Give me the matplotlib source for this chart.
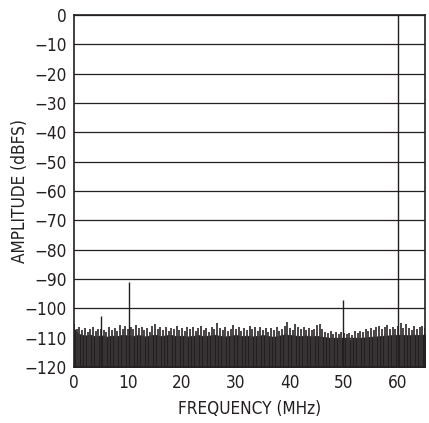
#!/usr/bin/env python3
import matplotlib
matplotlib.use("Agg")
import matplotlib.pyplot as plt
from matplotlib import font_manager
import numpy as np

# tones: fundamental at 60 MHz plus a few spurs
tone_freq = [5.0, 10.1, 49.9, 60.0]
tone_amp = [-102.5, -91.0, -97.0, 0.0]

# noise peaks read every 0.5 MHz (0..65)
peak_freq = np.arange(0, 65.01, 0.5)
peak_amp = [
    -105.5, -107.0, -106.5, -107.5, -106.8, -108.0, -107.0, -106.5, -107.8, -107.2,
    -107.0, -107.5, -108.0, -106.2, -107.5, -106.8, -107.8, -105.8, -107.0, -106.0,
    -107.0, -106.5, -107.2, -105.6, -106.8, -106.3, -107.5, -106.6, -108.0, -106.0,
    -105.5, -107.0, -106.5, -107.3, -106.2, -107.8, -106.6, -107.2, -106.1, -107.4,
    -106.6, -107.6, -106.3, -107.1, -106.5, -107.8, -106.8, -105.9, -107.3, -106.6,
    -107.9, -106.4, -107.2, -104.9, -106.8, -107.5, -106.3, -107.7, -106.9, -105.8,
    -107.2, -106.5, -107.6, -106.7, -107.4, -105.9, -107.1, -106.3, -107.8, -106.2,
    -107.3, -106.6, -107.9, -106.8, -107.4, -106.4, -107.6, -106.9, -106.1, -104.8,
    -106.7, -107.3, -105.5, -106.4, -107.1, -106.2, -107.4, -106.8, -107.5, -106.9,
    -105.8, -105.3, -107.2, -107.9, -108.3, -107.6, -108.6, -108.1, -108.9, -108.2,
    -108.5, -108.8, -108.3, -109.1, -107.8, -108.4, -107.6, -107.9, -107.2, -107.7,
    -106.8, -107.4, -106.5, -106.1, -107.2, -106.4, -105.8, -106.9, -106.3, -107.1,
    -106.0, -104.9, -106.6, -105.2, -106.8, -107.3, -106.1, -107.0, -106.5, -105.9,
    -106.7,
]

# top of the solid noise floor, every 1 MHz
floor_freq = np.arange(0, 66, 1)
floor_amp = [
    -107.0, -108.8, -109.3, -109.0, -109.6, -109.2, -109.7, -109.3, -109.5, -109.0,
    -109.3, -109.4, -109.1, -109.6, -109.3, -109.0, -109.5, -109.2, -109.1, -109.5,
    -109.3, -109.6, -109.4, -109.1, -109.5, -109.3, -109.0, -109.4, -109.6, -109.3,
    -109.1, -109.5, -109.3, -109.6, -109.4, -109.1, -109.5, -109.7, -109.3, -108.9,
    -109.1, -109.3, -109.5, -109.3, -109.6, -109.4, -109.7, -110.0, -110.3, -110.5,
    -110.4, -110.6, -110.3, -110.1, -109.9, -109.7, -109.6, -109.4, -109.3, -109.1,
    -109.0, -109.1, -109.2, -109.0, -109.1, -108.9,
]

INK = "#231f20"


def main():
    names = {f.name for f in font_manager.fontManager.ttflist}
    if "Liberation Sans Narrow" in names:
        plt.rcParams["font.family"] = ["Liberation Sans Narrow", "DejaVu Sans"]
        fsize = 13
    else:
        plt.rcParams["font.family"] = ["DejaVu Sans"]
        plt.rcParams["font.stretch"] = "condensed"
        fsize = 12.3

    fig = plt.figure(figsize=(4.29, 4.23), dpi=100)
    ax = fig.add_axes([0.1725, 0.1324, 0.8182, 0.8321])
    ax.set_axisbelow(True)

    ax.fill_between(floor_freq, -120, floor_amp, color=INK, lw=0.6, zorder=2)
    ax.vlines(peak_freq, -120, peak_amp, color="#3a3637", lw=1.3, zorder=2)
    ax.vlines(tone_freq, -120, tone_amp, color=INK, lw=1.0, zorder=3)

    ax.set_xlim(0, 65)
    ax.set_ylim(-120, 0)
    ax.set_xticks(np.arange(0, 61, 10))
    ax.set_yticks(np.arange(-120, 1, 10))
    ax.set_yticklabels(["0" if v == 0 else f"\u2212{abs(v)}" for v in range(-120, 1, 10)])
    ax.tick_params(length=0, pad=5, colors=INK, labelsize=fsize)
    ax.grid(axis="y", color=INK, lw=0.9)
    for s in ax.spines.values():
        s.set_color(INK)
        s.set_linewidth(1.2)
        s.set_zorder(4)

    ax.set_xlabel("FREQUENCY (MHz)", color=INK, fontsize=fsize, labelpad=6)
    ax.set_ylabel("AMPLITUDE (dBFS)", color=INK, fontsize=fsize, labelpad=-3)

    fig.savefig("out.png", dpi=100)


if __name__ == '__main__':
    main()
